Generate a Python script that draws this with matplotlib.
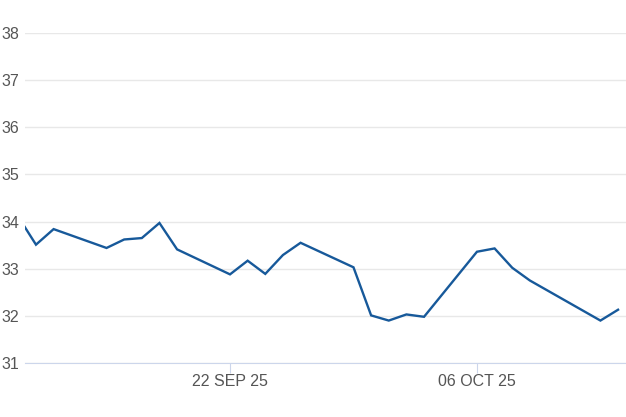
import datetime as dt
import matplotlib
matplotlib.use("Agg")
import matplotlib.pyplot as plt
import matplotlib.dates as mdates

dates = ["2025-09-10", "2025-09-11", "2025-09-12", "2025-09-15", "2025-09-16",
         "2025-09-17", "2025-09-18", "2025-09-19", "2025-09-22", "2025-09-23",
         "2025-09-24", "2025-09-25", "2025-09-26", "2025-09-29", "2025-09-30",
         "2025-10-01", "2025-10-02", "2025-10-03", "2025-10-06", "2025-10-07",
         "2025-10-08", "2025-10-09", "2025-10-13", "2025-10-14"]
values = [34.10, 33.51, 33.84, 33.44, 33.62, 33.65, 33.97, 33.41, 32.88, 33.17,
          32.89, 33.29, 33.55, 33.03, 32.01, 31.90, 32.03, 31.98, 33.36, 33.43,
          33.02, 32.75, 31.90, 32.13]
xtick_dates = ["2025-09-22", "2025-10-06"]
yticks = [31, 32, 33, 34, 35, 36, 37, 38]

plt.rcParams["font.family"] = ["Liberation Sans", "DejaVu Sans"]

x = [dt.datetime.strptime(d, "%Y-%m-%d") for d in dates]
xt = [dt.datetime.strptime(d, "%Y-%m-%d") for d in xtick_dates]

fig = plt.figure(figsize=(6.26, 4.17), dpi=100)
ax = fig.add_axes([0.04, 0.1295, 0.96, 0.7914])
ax.plot(x, values, color="#17599a", lw=1.7, solid_joinstyle="miter", zorder=3)

ref = xt[0]
ax.set_xlim(mdates.date2num(ref) - 11.62, mdates.date2num(ref) + 22.45)
ax.set_ylim(31, 38)
ax.set_yticks(yticks)
ax.set_xticks(xt)
ax.set_xticklabels([d.strftime("%d %b %y").upper() for d in xt])

ax.grid(axis="y", color="#e8e8e8", lw=1)
ax.set_axisbelow(True)
for s in ["top", "right", "left"]:
    ax.spines[s].set_visible(False)
ax.spines["bottom"].set_color("#ccd6eb")
ax.tick_params(axis="y", length=0, pad=4, labelsize=11.5, labelcolor="#555555")
ax.tick_params(axis="x", length=7, color="#ccd6eb", pad=1, labelsize=11.5, labelcolor="#555555")

fig.savefig("out.png", dpi=100)
